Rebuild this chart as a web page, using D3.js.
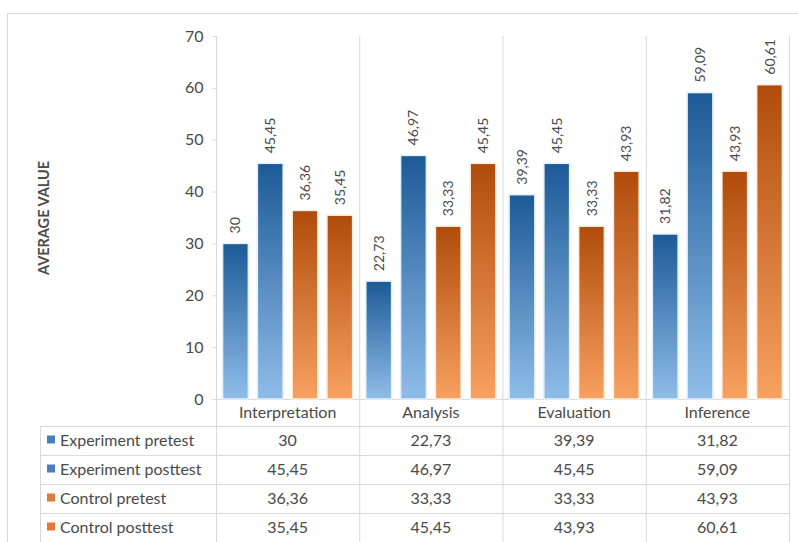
<!DOCTYPE html>
<html>
<head>
<meta charset="utf-8">
<script src="https://cdn.jsdelivr.net/npm/d3@7"></script>
<style>
  body { margin: 0; background: #fff; }
  svg text { font-family: Lato, "Noto Sans", sans-serif; fill: #4a4a4a; }
</style>
</head>
<body>
<div id="grafica"></div>
<script>
// datos
const categorias = ["Interpretation", "Analysis", "Evaluation", "Inference"]
const series = ["Experiment pretest", "Experiment posttest", "Control pretest", "Control posttest"]
const expPre = [30, 22.73, 39.39, 31.82]
const expPost = [45.45, 46.97, 45.45, 59.09]
const ctrlPre = [36.36, 33.33, 33.33, 43.93]
const ctrlPost = [35.45, 45.45, 43.93, 60.61]
const yTicks = [0, 10, 20, 30, 40, 50, 60, 70]

const valores = [expPre, expPost, ctrlPre, ctrlPost]
const tipo = ["blue", "blue", "orange", "orange"]
const fmt = (v) => String(v).replace(".", ",")

const ancho = 798
const alto = 542
const svg = d3.select("#grafica")
  .append("svg")
  .attr("width", ancho)
  .attr("height", alto)

// marco
svg.append("rect")
  .attr("x", 7.5).attr("y", 13.5)
  .attr("width", 800).attr("height", 540)
  .attr("fill", "#fff")
  .attr("stroke", "#d9d9d9")

const defs = svg.append("defs")
const grad = (id, top, bottom) => {
  const lg = defs.append("linearGradient")
    .attr("id", id).attr("x1", 0).attr("y1", 0).attr("x2", 0).attr("y2", 1)
  lg.append("stop").attr("offset", "0%").attr("stop-color", top)
  lg.append("stop").attr("offset", "100%").attr("stop-color", bottom)
}
grad("blue", "#1c5a97", "#8fbde9")
grad("orange", "#b04c0b", "#f8a160")
const legendColor = { blue: "#4a7ebb", orange: "#e0793a" }

const x0 = d3.scaleBand().domain(categorias).range([216, 789])
const x1 = d3.scaleBand()
  .domain(d3.range(series.length))
  .range([0, x0.bandwidth()])
  .paddingInner(0.26)
  .paddingOuter(0.19)
const y = d3.scaleLinear().domain([0, 70]).range([399, 36])

const rowY = d3.scaleBand().domain(series).range([426, 542])

// separadores verticales
svg.append("g")
  .selectAll("line")
  .data(categorias.concat(["end"]))
  .enter()
  .append("line")
  .attr("x1", (d, i) => i < categorias.length ? x0(d) + 0.5 : x0.range()[1] + 0.5)
  .attr("x2", (d, i) => i < categorias.length ? x0(d) + 0.5 : x0.range()[1] + 0.5)
  .attr("y1", y(70))
  .attr("y2", alto)
  .attr("stroke", "#d9d9d9")

// lineas de la tabla
svg.append("g")
  .selectAll("line")
  .data(series)
  .enter()
  .append("line")
  .attr("x1", 40)
  .attr("x2", 789)
  .attr("y1", (d) => Math.round(rowY(d)) + 0.5)
  .attr("y2", (d) => Math.round(rowY(d)) + 0.5)
  .attr("stroke", "#d9d9d9")
svg.append("line")
  .attr("x1", 40.5).attr("x2", 40.5)
  .attr("y1", 426).attr("y2", alto)
  .attr("stroke", "#d9d9d9")
svg.append("line")
  .attr("x1", 216).attr("x2", 789)
  .attr("y1", y(0) + 0.5).attr("y2", y(0) + 0.5)
  .attr("stroke", "#d9d9d9")

// eje y
const yAxis = d3.axisLeft(y).tickValues(yTicks).tickSize(4).tickPadding(9)
const yAxisGroup = svg.append("g")
  .attr("transform", "translate(216.5, 0)")
  .call(yAxis)
yAxisGroup.select(".domain").remove()
yAxisGroup.selectAll("line").attr("stroke", "#d9d9d9")
yAxisGroup.selectAll("text")
  .style("font-size", "16px")
  .style("font-family", "Lato, 'Noto Sans', sans-serif")
  .attr("fill", "#595959")

svg.append("text")
  .attr("transform", "translate(49, 218) rotate(-90)")
  .attr("text-anchor", "middle")
  .style("font-size", "14.5px")
  .style("font-weight", "bold")
  .text("AVERAGE VALUE")

// barras
const grupos = svg.append("g")
  .selectAll("g")
  .data(categorias)
  .enter()
  .append("g")
  .attr("transform", (d) => `translate(${x0(d)}, 0)`)

grupos.selectAll("rect")
  .data((d, ci) => valores.map((s, si) => ({ si, v: s[ci] })))
  .enter()
  .append("rect")
  .attr("x", (d) => x1(d.si))
  .attr("y", (d) => y(d.v))
  .attr("width", x1.bandwidth())
  .attr("height", (d) => y(0) - y(d.v))
  .attr("fill", (d) => `url(#${tipo[d.si]})`)
  .attr("stroke", (d) => tipo[d.si] == "blue" ? "#e3f0fb" : "#fdeee0")
  .attr("stroke-width", 1.5)

grupos.selectAll("text")
  .data((d, ci) => valores.map((s, si) => ({ si, v: s[ci] })))
  .enter()
  .append("text")
  .attr("transform", (d) => `translate(${x1(d.si) + x1.bandwidth() / 2 + 5}, ${y(d.v) - 10}) rotate(-90)`)
  .style("font-size", "14px")
  .text((d) => fmt(d.v))

// etiquetas de categoria
svg.append("g")
  .selectAll("text")
  .data(categorias)
  .enter()
  .append("text")
  .attr("x", (d) => x0(d) + x0.bandwidth() / 2)
  .attr("y", 418)
  .attr("text-anchor", "middle")
  .style("font-size", "16px")
  .text((d) => d)

// tabla de datos
const filas = svg.append("g")
  .selectAll("g")
  .data(series)
  .enter()
  .append("g")
  .attr("transform", (d) => `translate(0, ${rowY(d) + rowY.bandwidth() / 2})`)

filas.append("rect")
  .attr("x", 47).attr("y", -5)
  .attr("width", 8).attr("height", 8)
  .attr("fill", (d, i) => legendColor[tipo[i]])
filas.append("text")
  .attr("x", 60).attr("y", 5)
  .style("font-size", "16px")
  .text((d) => d)

filas.each(function (d, si) {
  d3.select(this).selectAll(".val")
    .data(valores[si])
    .enter()
    .append("text")
    .attr("class", "val")
    .attr("x", (v, ci) => x0(categorias[ci]) + x0.bandwidth() / 2)
    .attr("y", 5)
    .attr("text-anchor", "middle")
    .style("font-size", "16px")
    .text(fmt)
})
</script>
</body>
</html>
